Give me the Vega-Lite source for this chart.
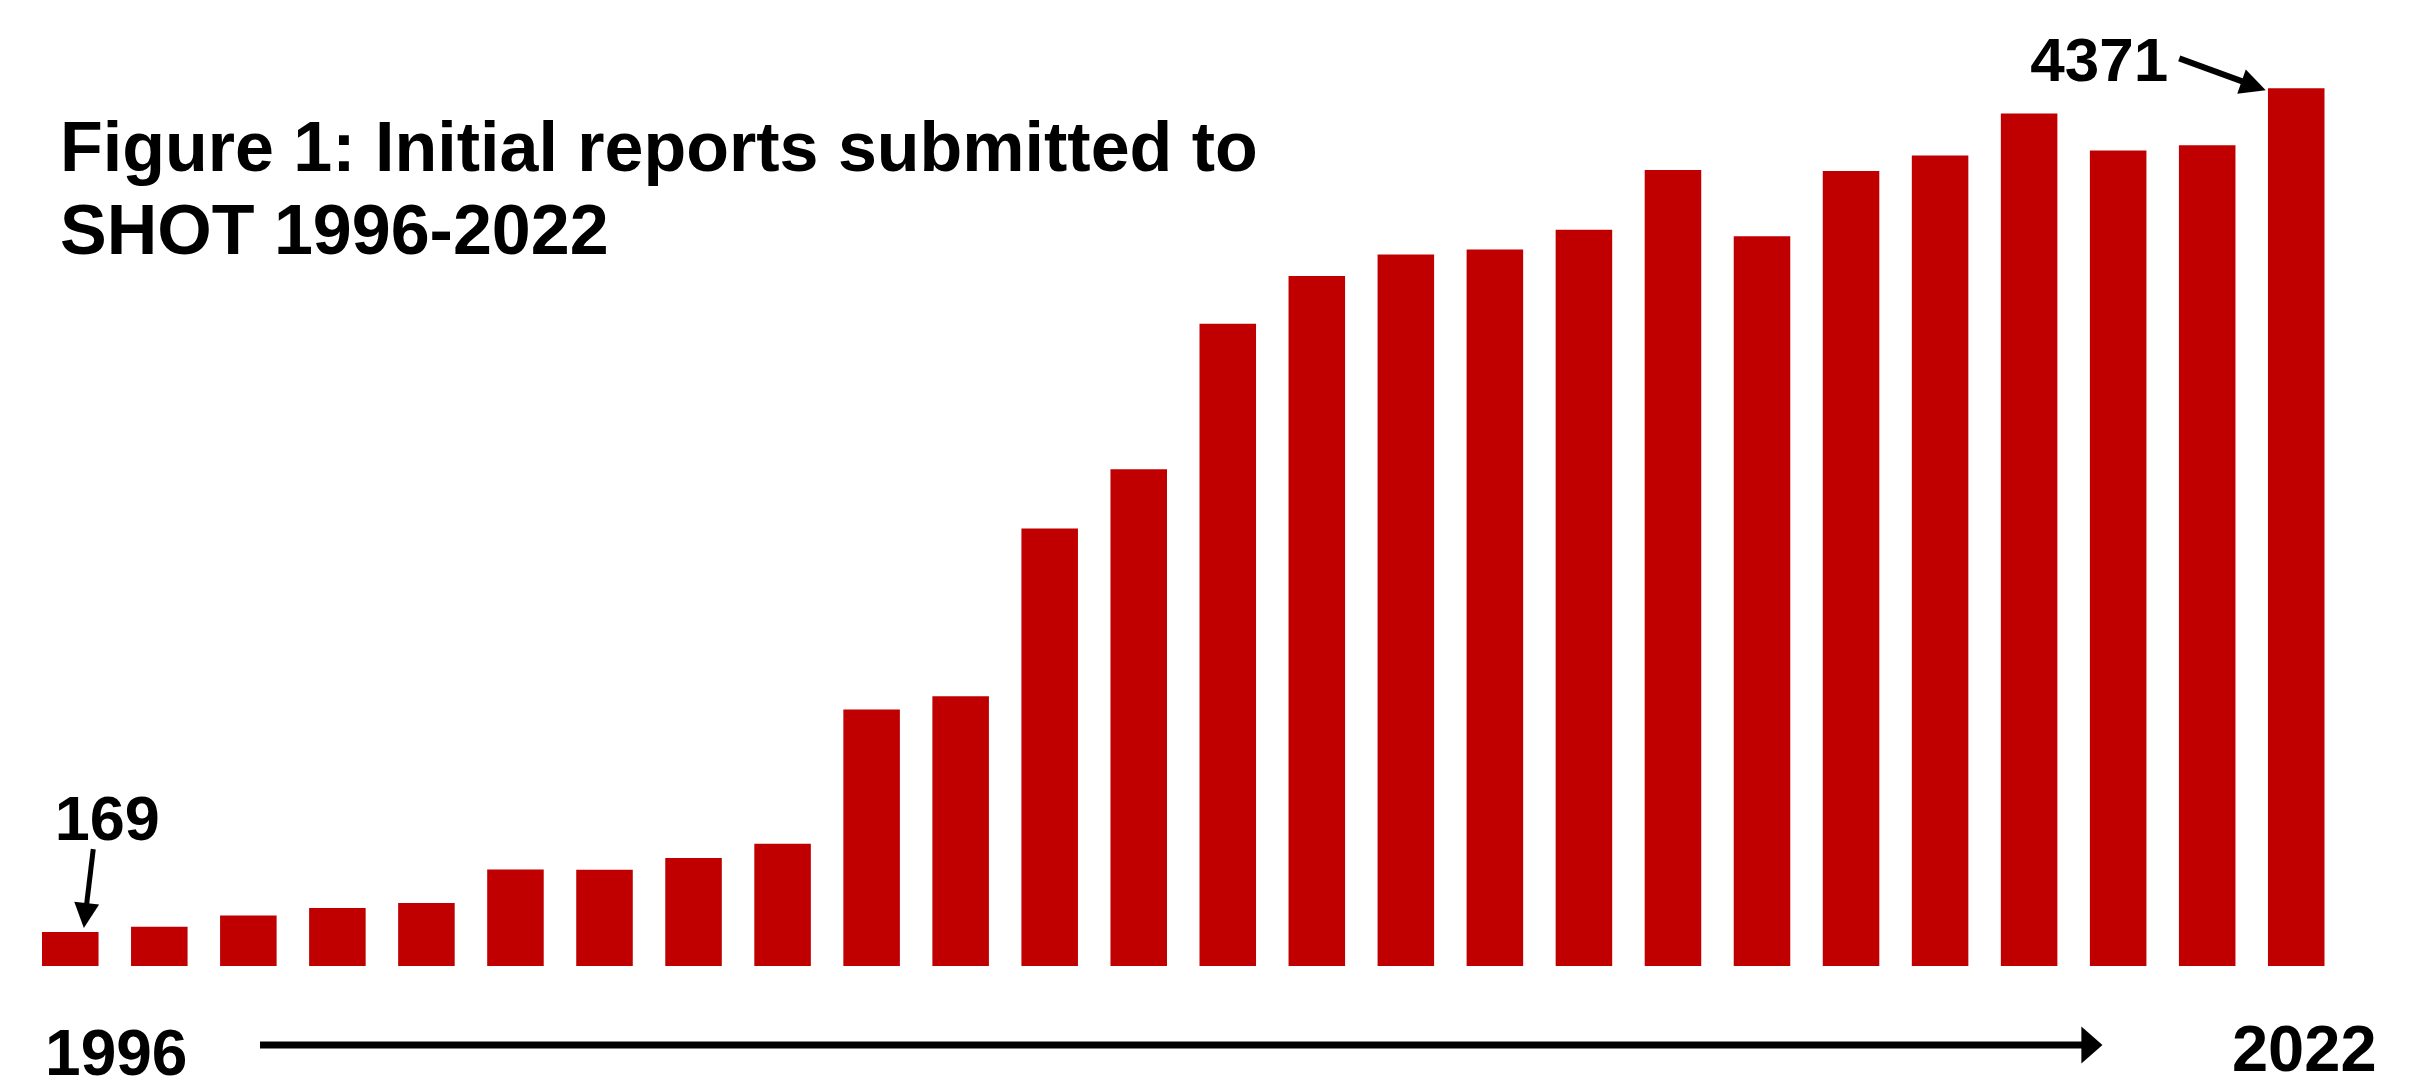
{
  "$schema": "https://vega.github.io/schema/vega-lite/v6.json",
  "width": 2429,
  "height": 1089,
  "autosize": "none",
  "padding": 0,
  "background": "white",
  "config": {"view": {"stroke": null}},
  "title": {
    "text": ["Figure 1: Initial reports submitted to", "SHOT 1996-2022"],
    "anchor": "start",
    "frame": "group",
    "orient": "top",
    "baseline": "alphabetic",
    "offset": -324,
    "dx": 60,
    "font": "Liberation Sans, Arial, sans-serif",
    "fontSize": 70,
    "fontWeight": "bold",
    "lineHeight": 83,
    "color": "black"
  },
  "data": {
    "values": [
      {"year": "1996/97", "reports": 169},
      {"year": "1997/98", "reports": 196},
      {"year": "1998/99", "reports": 252},
      {"year": "1999/00", "reports": 289},
      {"year": "2000/01", "reports": 314},
      {"year": "2001/02", "reports": 481},
      {"year": "2002/03", "reports": 480},
      {"year": "2003/04", "reports": 538},
      {"year": "2005", "reports": 609},
      {"year": "2006", "reports": 1278},
      {"year": "2007", "reports": 1343},
      {"year": "2008", "reports": 2179},
      {"year": "2009", "reports": 2474},
      {"year": "2010", "reports": 3199},
      {"year": "2011", "reports": 3436},
      {"year": "2012", "reports": 3544},
      {"year": "2013", "reports": 3568},
      {"year": "2014", "reports": 3667},
      {"year": "2015", "reports": 3964},
      {"year": "2016", "reports": 3634},
      {"year": "2017", "reports": 3959},
      {"year": "2018", "reports": 4037},
      {"year": "2019", "reports": 4246},
      {"year": "2020", "reports": 4062},
      {"year": "2021", "reports": 4088},
      {"year": "2022", "reports": 4371}
    ]
  },
  "encoding": {
    "x": {
      "field": "year",
      "type": "nominal",
      "sort": null,
      "axis": null,
      "scale": {"range": [42, 2324.5], "paddingInner": 0.365, "paddingOuter": 0}
    }
  },
  "layer": [
    {
      "mark": {"type": "bar", "color": "#C00000"},
      "encoding": {
        "y": {
          "field": "reports",
          "type": "quantitative",
          "axis": null,
          "scale": {"domain": [-612.5, 4811], "nice": false, "zero": false}
        },
        "y2": {"datum": 0}
      }
    },
    {
      "transform": [{"filter": "datum.year === '1996/97'"}],
      "layer": [
        {
          "mark": {"type": "text", "align": "center", "baseline": "alphabetic", "dx": 37, "dy": -92, "font": "Liberation Sans, Arial, sans-serif", "fontSize": 63, "fontWeight": "bold", "color": "black"},
          "encoding": {"y": {"field": "reports", "type": "quantitative"}, "text": {"field": "reports", "type": "quantitative"}}
        },
        {
          "mark": {"type": "rule", "color": "black", "strokeWidth": 5, "xOffset": 23, "yOffset": -83, "x2Offset": 16, "y2Offset": -25},
          "encoding": {"x2": {"field": "year"}, "y": {"field": "reports", "type": "quantitative"}, "y2": {"field": "reports"}}
        },
        {
          "mark": {"type": "point", "shape": "M-1,-1L1,-1L0,1Z", "size": 625, "angle": 6.5, "filled": true, "color": "black", "opacity": 1, "xOffset": 15, "yOffset": -16.5},
          "encoding": {"y": {"field": "reports", "type": "quantitative"}}
        },
        {
          "mark": {"type": "text", "align": "center", "baseline": "alphabetic", "dx": 46, "dy": 109, "font": "Liberation Sans, Arial, sans-serif", "fontSize": 64, "fontWeight": "bold", "color": "black", "text": "1996"},
          "encoding": {"y": {"datum": 0, "type": "quantitative"}}
        }
      ]
    },
    {
      "transform": [{"filter": "datum.year === '2022'"}],
      "layer": [
        {
          "mark": {"type": "text", "align": "center", "baseline": "alphabetic", "dx": -197, "dy": -7, "font": "Liberation Sans, Arial, sans-serif", "fontSize": 62, "fontWeight": "bold", "color": "black"},
          "encoding": {"y": {"field": "reports", "type": "quantitative"}, "text": {"field": "reports", "type": "quantitative"}}
        },
        {
          "mark": {"type": "rule", "color": "black", "strokeWidth": 6, "xOffset": -117, "yOffset": -30, "x2Offset": -54, "y2Offset": -7},
          "encoding": {"x2": {"field": "year"}, "y": {"field": "reports", "type": "quantitative"}, "y2": {"field": "reports"}}
        },
        {
          "mark": {"type": "point", "shape": "M-1,-1L1,-1L0,1Z", "size": 660, "angle": 289.5, "filled": true, "color": "black", "opacity": 1, "xOffset": -42.6, "yOffset": -2.5},
          "encoding": {"y": {"field": "reports", "type": "quantitative"}}
        },
        {
          "mark": {"type": "text", "align": "center", "baseline": "alphabetic", "dx": 8, "dy": 105, "font": "Liberation Sans, Arial, sans-serif", "fontSize": 65, "fontWeight": "bold", "color": "black", "text": "2022"},
          "encoding": {"y": {"datum": 0, "type": "quantitative"}}
        }
      ]
    },
    {
      "transform": [{"filter": "datum.year === '2022'"}],
      "layer": [
        {
          "mark": {"type": "rule", "color": "black", "strokeWidth": 7, "xOffset": 189.75, "x2Offset": -211, "yOffset": 79, "y2Offset": 79},
          "encoding": {"x": {"datum": "1996/97"}, "x2": {"datum": "2022"}, "y": {"datum": 0, "type": "quantitative"}, "y2": {"datum": 0}}
        },
        {
          "mark": {"type": "point", "shape": "M-0.57,-1L0.57,0L-0.57,1Z", "size": 1369, "filled": true, "color": "black", "opacity": 1, "xOffset": -204.3, "yOffset": 79},
          "encoding": {"x": {"datum": "2022"}, "y": {"datum": 0, "type": "quantitative"}}
        }
      ]
    }
  ]
}
